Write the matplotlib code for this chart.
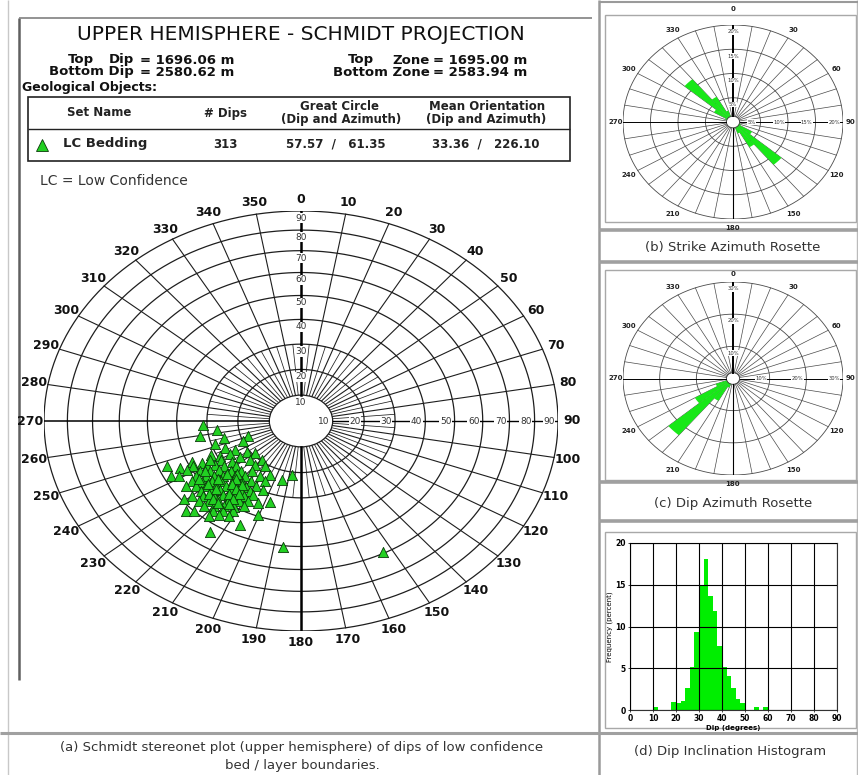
import numpy as np
import matplotlib
matplotlib.use('Agg')
import matplotlib.pyplot as plt
from matplotlib.patches import Rectangle, Ellipse

W, H = 858, 775

# LC bedding dips: dip angle and dip azimuth (degrees)
dips = [31.3, 27.1, 32.8, 17.6, 25.5, 19.9, 29.0, 26.4, 23.9, 20.9, 19.2, 31.7, 29.3, 26.1,
        23.9, 19.6, 38.6, 35.9, 29.6, 27.2, 22.2, 46.8, 43.3, 38.9, 35.0, 32.6, 30.0, 27.1,
        22.5, 21.0, 41.7, 38.0, 35.2, 32.4, 29.7, 27.3, 24.8, 21.1, 47.6, 45.0, 40.3, 37.5,
        35.3, 32.8, 30.1, 27.9, 24.9, 23.2, 23.8, 42.5, 39.9, 37.2, 34.6, 32.5, 30.3, 28.3,
        26.0, 45.2, 42.5, 39.9, 37.3, 35.0, 33.0, 31.0, 29.0, 42.5, 40.0, 37.5, 35.5, 33.6,
        31.7, 29.6, 46.1, 43.2, 40.7, 38.5, 36.6, 34.7, 32.8, 49.1, 33.1, 45.9, 43.5, 41.1,
        39.2, 37.4, 35.6, 34.9, 46.2, 43.9, 41.7, 40.0, 38.2, 51.9, 49.9, 45.7, 43.5, 41.9,
        48.2, 45.9, 44.1, 39.5, 45.7, 53.4, 50.6, 59.4,
        33.0, 36.6, 31.4, 29.2, 39.9, 35.0, 30.8, 38.8, 33.2, 31.2, 38.2, 33.9, 41.3, 36.8,
        34.9, 41.6, 37.6, 42.0, 40.1]
azimuths = [267.2, 262.5, 259.9, 251.1, 254.7, 247.0, 251.6, 246.3, 241.7, 235.4, 229.3, 245.0,
            242.3, 240.1, 234.4, 219.5, 245.5, 242.5, 239.0, 234.3, 226.9, 247.7, 244.7, 243.1,
            239.8, 237.8, 234.5, 229.5, 220.5, 212.8, 242.2, 238.8, 236.2, 233.6, 228.5, 224.2,
            218.5, 188.0, 242.6, 241.1, 237.4, 234.6, 232.4, 229.1, 224.0, 219.5, 211.5, 205.1,
            195.0, 236.1, 233.3, 230.4, 227.5, 223.0, 218.5, 214.0, 206.1, 235.4, 232.7, 229.8,
            226.9, 223.2, 218.7, 214.3, 209.3, 229.5, 226.6, 223.7, 219.4, 215.0, 210.7, 204.0,
            230.1, 226.8, 223.8, 220.5, 216.2, 212.0, 207.7, 230.9, 197.6, 226.2, 223.3, 220.4,
            216.5, 212.3, 208.2, 203.2, 222.9, 220.0, 216.7, 212.6, 208.6, 226.4, 224.0, 218.6,
            215.5, 211.6, 218.5, 215.6, 212.0, 200.3, 205.6, 213.9, 186.7, 152.9,
            242.4, 237.3, 229.1, 224.7, 235.0, 229.8, 222.2, 230.2, 221.8, 217.3, 225.9, 217.8,
            226.0, 219.0, 214.7, 222.7, 215.2, 219.4, 215.5]

# dip inclination histogram, 2 degree bins
hist_left = [10, 18, 20, 22, 24, 26, 28, 30, 32, 34, 36, 38, 40, 42, 44, 46, 48, 54, 58]
hist_pct = [0.3, 1.0, 0.8, 1.1, 2.6, 5.1, 9.3, 15.0, 18.1, 13.6, 11.8, 7.7, 5.1, 4.1, 2.6,
            1.3, 0.8, 0.3, 0.3]

# dip azimuth rosette, 10 degree bins
dipaz_left = [190, 200, 210, 220, 230, 240, 250, 260]
dipaz_pct = [1.0, 3.0, 8.0, 23.0, 12.0, 5.0, 2.0, 1.0]

# strike azimuth rosette, 10 degree bins, both ends of the strike line
strike_left = [100, 110, 120, 130, 140, 150, 160, 170, 280, 290, 300, 310, 320, 330, 340, 350]
strike_pct = [0.5, 1.5, 4.0, 11.5, 6.0, 2.5, 1.0, 0.5, 0.5, 1.5, 4.0, 11.5, 6.0, 2.5, 1.0, 0.5]

GREEN = '#22d022'
PETAL = '#18e818'
GRID = '#1e1e1e'


def fbox(x0, y0, x1, y1):
    # pixel box (top-left origin) -> figure fraction rect
    return [x0 / W, 1 - y1 / H, (x1 - x0) / W, (y1 - y0) / H]


def schmidt(d):
    return np.sqrt(2) * np.sin(np.radians(d) / 2)


def xy(r, az):
    a = np.radians(az)
    return r * np.sin(a), r * np.cos(a)


fig = plt.figure(figsize=(W / 100, H / 100), dpi=100)
plt.rcParams['font.family'] = ['DejaVu Sans']

# overlay in pixel units for frames, header and captions
ov = fig.add_axes([0, 0, 1, 1])
ov.set_xlim(0, W)
ov.set_ylim(H, 0)
ov.axis('off')

def hline(y, x0, x1, c='#999999', lw=2.0):
    ov.plot([x0, x1], [y, y], color=c, lw=lw, solid_capstyle='butt')

def vline(x, y0, y1, c='#999999', lw=2.0):
    ov.plot([x, x], [y0, y1], color=c, lw=lw, solid_capstyle='butt')

vline(8, 0, H, '#c8c8c8', 1.0)
vline(19, 18, 680, '#606060', 1.8)
hline(18, 19, 592, '#808080', 1.2)
vline(599, 0, H, '#9a9a9a', 1.8)
vline(857, 0, H, '#bbbbbb', 1.0)
hline(2, 599, W, '#9a9a9a', 1.5)
for y in [230, 262, 482, 521]:
    hline(y, 599, W, '#a0a0a0', 2.6)
hline(733, 0, W, '#a0a0a0', 2.2)
for (x0, y0, x1, y1) in [(605, 15, 856, 222), (605, 270, 856, 480), (605, 532, 856, 728)]:
    ov.add_patch(Rectangle((x0, y0), x1 - x0, y1 - y0, fill=False, ec='#a8a8a8', lw=1.0))

# header
ov.text(301, 34, 'UPPER HEMISPHERE - SCHMIDT PROJECTION', ha='center', va='center',
        fontsize=14.5, color='#111111')
hb = dict(fontsize=9.5, fontweight='bold', va='center', color='#111111')
ov.text(68, 60, 'Top', ha='left', **hb)
ov.text(134, 60, 'Dip', ha='right', **hb)
ov.text(134, 72, 'Bottom Dip', ha='right', **hb)
ov.text(140, 60, '= 1696.06 m', ha='left', **hb)
ov.text(140, 72, '= 2580.62 m', ha='left', **hb)
ov.text(348, 60, 'Top', ha='left', **hb)
ov.text(430, 60, 'Zone', ha='right', **hb)
ov.text(430, 72, 'Bottom Zone', ha='right', **hb)
ov.text(433, 60, '= 1695.00 m', ha='left', **hb)
ov.text(433, 72, '= 2583.94 m', ha='left', **hb)
ov.text(22, 88, 'Geological Objects:', ha='left', fontsize=9, fontweight='bold',
        va='center', color='#111111')

ov.add_patch(Rectangle((28, 97), 542, 64, fill=False, ec='#222222', lw=1.2))
hline(129, 28, 570, '#222222', 1.0)
tb = dict(fontsize=8.5, fontweight='bold', va='center', ha='center', color='#222222')
ov.text(99, 113, 'Set Name', **tb)
ov.text(225, 113, '# Dips', **tb)
ov.text(339, 106, 'Great Circle', **tb)
ov.text(341, 120, '(Dip and Azimuth)', **tb)
ov.text(487, 106, 'Mean Orientation', **tb)
ov.text(486, 120, '(Dip and Azimuth)', **tb)
ov.plot([42], [145], marker='^', ms=9, mfc=GREEN, mec='#0a3a0a', mew=0.6)
ov.text(63, 144, 'LC Bedding', ha='left', va='center', fontsize=9.5, fontweight='bold',
        color='#222222')
ov.text(225, 144, '313', **tb)
ov.text(336, 144, '57.57  /   61.35', **tb)
ov.text(486, 144, '33.36  /   226.10', **tb)
ov.text(40, 181, 'LC = Low Confidence', ha='left', va='center', fontsize=10, color='#333333')

cap = dict(fontsize=9.5, color='#333333', ha='center', va='center')
ov.text(302, 748, '(a) Schmidt stereonet plot (upper hemisphere) of dips of low confidence', **cap)
ov.text(302, 766, 'bed / layer boundaries.', **cap)
ov.text(733, 247, '(b) Strike Azimuth Rosette', **cap)
ov.text(733, 503, '(c) Dip Azimuth Rosette', **cap)
ov.text(730, 751, '(d) Dip Inclination Histogram', **cap)

# stereonet
st = fig.add_axes(fbox(44, 211, 558, 631))
st.set_xlim(-1, 1)
st.set_ylim(-1, 1)
st.axis('off')
t = np.linspace(0, 2 * np.pi, 361)
for d in range(20, 100, 10):
    r = schmidt(d)
    st.plot(r * np.sin(t), r * np.cos(t), color=GRID, lw=0.9)
r10 = schmidt(10)
for a in range(0, 360, 5):
    if a % 90 == 0:
        continue
    r1 = schmidt(90) if a % 10 == 0 else schmidt(30)
    x, y = xy(np.array([r10, r1]), a)
    st.plot(x, y, color=GRID, lw=0.8 if a % 10 == 0 else 0.55)
st.add_patch(Ellipse((0, 0), 2 * r10, 2 * r10, fc='white', ec=GRID, lw=0.9, zorder=3))
st.plot([0, 0], [r10, 1], color='k', lw=1.8, zorder=4)
st.plot([0, 0], [-r10, -1], color='k', lw=1.8, zorder=4)
st.plot([-1, -r10], [0, 0], color='k', lw=1.1, zorder=4)
st.plot([r10, 1], [0, 0], color='k', lw=1.0, zorder=4)
lb = dict(fontsize=6.5, color='#333333', ha='center', va='center', zorder=5,
          bbox=dict(fc='white', ec='none', pad=0.4))
for d in range(10, 100, 10):
    st.text(0, schmidt(d) - 0.035, str(d), **lb)
    st.text(schmidt(d) - 0.035, 0, str(d), **lb)
for a in range(0, 360, 10):
    x, y = xy(1.055, a)
    st.text(x, y, str(a), ha='center', va='center', fontsize=9, fontweight='bold',
            color='#111111')
x, y = xy(schmidt(np.array(dips)), np.array(azimuths))
st.scatter(x, y, marker='^', s=54, fc=GREEN, ec='#0a3a0a', lw=0.6, zorder=6)


def rosette(rect, rmax, step, left, pct, width, top_lab):
    ax = fig.add_axes(rect)
    ax.set_xlim(-1, 1)
    ax.set_ylim(-1, 1)
    ax.axis('off')
    rings = np.arange(step, rmax + 0.01, step)
    for k in rings:
        r = k / rmax
        ax.plot(r * np.sin(t), r * np.cos(t), color='#4a4a4a', lw=0.6)
    for a in range(0, 360, 10):
        if a % 90 == 0:
            continue
        x, y = xy(np.array([0.06, 1.0]), a)
        ax.plot(x, y, color='#4a4a4a', lw=0.5)
    for a0, p in zip(left, pct):
        th = np.linspace(a0, a0 + width, 8)
        x, y = xy(p / rmax, th)
        ax.fill(np.r_[0, x], np.r_[0, y], color=PETAL, lw=0, zorder=3)
    ax.add_patch(Ellipse((0, 0), 0.12, 0.12, fc='white', ec='#333333', lw=0.6, zorder=4))
    ax.plot([0, 0], [0.06, top_lab - 0.05], color='k', lw=1.4, zorder=5)
    ax.plot([0, 0], [-0.06, -1.0], color='k', lw=0.8, zorder=5)
    ax.plot([-1.03, -0.06], [0, 0], color='k', lw=0.7, zorder=5)
    ax.plot([0.06, 1.03], [0, 0], color='k', lw=0.7, zorder=5)
    pl = dict(fontsize=3.8, color='#333333', ha='center', va='center', zorder=6,
              bbox=dict(fc='white', ec='none', pad=0.2))
    for k in rings:
        ax.text(0, k / rmax - 0.07, '%d%%' % k, **pl)
        ax.text(k / rmax - 0.08, 0, '%d%%' % k, **pl)
    al = dict(fontsize=5, fontweight='bold', color='#222222', ha='center', va='center')
    for a in range(0, 360, 30):
        rr = top_lab if a == 0 else (1.07 if a % 180 == 90 else 1.09)
        x, y = xy(rr, a)
        ax.text(x, y, str(a), **al)
    return ax


rosette(fbox(623, 25, 843, 219), 20, 5, strike_left, strike_pct, 10, 1.16)
rosette(fbox(623, 282, 843, 475), 30, 10, dipaz_left, dipaz_pct, 10, 1.08)

# dip inclination histogram
hx = fig.add_axes(fbox(630, 543, 837, 710))
hx.bar(hist_left, hist_pct, width=2, align='edge', color='#00ee00', lw=0, zorder=1)
hx.set_xlim(0, 90)
hx.set_ylim(0, 20)
hx.set_xticks(range(0, 91, 10))
hx.set_yticks(range(0, 21, 5))
hx.set_axisbelow(False)
hx.grid(True, color='k', lw=0.8)
for s in hx.spines.values():
    s.set_color('#333333')
    s.set_linewidth(0.8)
hx.tick_params(labelsize=5.5, length=1.5, width=0.5, pad=1.5)
for lab in hx.get_xticklabels() + hx.get_yticklabels():
    lab.set_fontweight('bold')
hx.set_xlabel('Dip (degrees)', fontsize=5, fontweight='bold', labelpad=1)
hx.set_ylabel('Frequency (percent)', fontsize=5, labelpad=1.5)

fig.savefig('out.png', dpi=100)
